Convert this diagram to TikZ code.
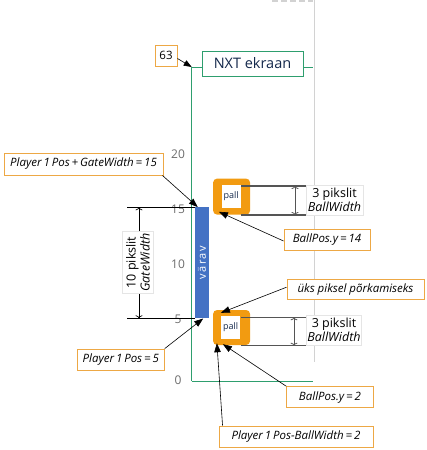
\documentclass[tikz,border=0pt]{standalone}
\usepackage{fontspec}
\setmainfont{Open Sans}
\usetikzlibrary{arrows.meta}
\definecolor{lorange}{HTML}{EDA845}
\definecolor{borange}{HTML}{F29B11}
\definecolor{gblue}{HTML}{4472C4}
\definecolor{sgreen}{HTML}{2E9E6E}
\definecolor{navy}{HTML}{14284B}
\definecolor{dimgray}{HTML}{555555}
\begin{document}
\begin{tikzpicture}[x=1pt,y=-1pt,
  lbl/.style={draw=lorange, line width=0.9pt, fill=white, inner sep=0pt, font=\fontsize{11.5}{13}\selectfont\itshape, text=black},
  dimbox/.style={draw=gray!20, fill=white, inner sep=0pt, align=center, font=\fontsize{12.5}{14}\selectfont, text=black},
  con/.style={-{Triangle[length=9pt,width=6.5pt]}, line width=0.6pt},
  ticklbl/.style={font=\fontsize{12}{14}\selectfont, text=gray!85!black, inner sep=0pt},
  dimline/.style={dimgray, line width=1.3pt},
  dimarrow/.style={{To[length=3pt,width=7pt]}-{To[length=3pt,width=7pt]}, line width=0.8pt},
  ballout/.style={fill=borange, rounded corners=4pt, minimum width=37pt, minimum height=36pt, inner sep=0pt},
  ballin/.style={fill=white, minimum width=19pt, minimum height=23pt, inner sep=0pt, font=\fontsize{9}{10}\selectfont, text=navy},
  screenline/.style={sgreen, line width=1pt}
]
\useasboundingbox (0,0) rectangle (426,450);

% right gray screen edge
\draw[gray!35, line width=1.2pt, dash pattern=on 6pt off 3pt] (272,1) -- (313,1);
\draw[gray!35, line width=0.9pt] (314,0) -- (314,362);

% screen frame
\coordinate (tl) at (191.7,67);
\coordinate (bl) at (191.7,381);
\coordinate (br) at (313,381);
\coordinate (tr) at (313,67);
\node[draw=sgreen, line width=1pt, minimum width=101pt, minimum height=25pt, inner sep=0pt,
      font=\fontsize{14.5}{16}\selectfont, text=navy] (nxt) at (252.5,63.5) {NXT ekraan};
\draw[screenline] (bl) -- (tl) -- (tl -| nxt.west);
\draw[screenline] (tl -| nxt.east) -- (tr);
\draw[screenline] (bl) -- (br);

% 63 label
\node[lbl, font=\fontsize{11.5}{13}\selectfont, minimum width=22pt, minimum height=21pt] (n63) at (166,55.5) {63};
\draw[con, -{Triangle[length=8pt,width=6pt]}] ([yshift=-3pt]n63.east) -- (tl);

% tick labels
\node[ticklbl] (t20) at (178,154) {20};
\node[ticklbl] (t15) at (178,209) {15};
\node[ticklbl] (t10) at (178,264) {10};
\node[ticklbl] (t5)  at (178,319) {5};
\node[ticklbl] (t0)  at (178,380) {0};

% gate dimension
\coordinate (g15) at (127,207.3);
\coordinate (g5) at (127,318.3);
\draw[line width=0.7pt] (g15) -- (195,207.3);
\draw[line width=0.7pt] (g5) -- (195,318.3);
\draw[dimarrow, draw=black, line width=0.7pt] (139,207.3) -- (139,318.3);
\node[dimbox, rotate=90, minimum width=62pt, minimum height=31pt] (gdim) at (138,262.5)
  {10 pikslit\\ \itshape GateWidth};

% gate bar
\node[fill=gblue, minimum width=14pt, minimum height=111pt, inner sep=0pt] (bar) at (202,262.8) {};
\node[rotate=90, text=white, font=\fontsize{11}{12}\selectfont\addfontfeatures{LetterSpace=14}] (vlab) at (bar) {värav};

% balls
\node[ballout] (b1) at (231.6,196.6) {};
\node[ballin] (b1i) at (231.2,196.3) {pall};
\node[ballout, minimum height=35pt] (b2) at (231.6,327.5) {};
\node[ballin] (b2i) at (230.7,327.5) {pall};

% ball 1 dimension
\draw[dimline] (241,186) -- (306,186);
\draw[dimline] (241,215) -- (306,215);
\draw[dimarrow, draw=dimgray] (295,186) -- (295,215);
\node[dimbox, minimum width=57pt, minimum height=30pt] (bw1) at (334.5,200) {3 pikslit\\ \itshape BallWidth};

% ball 2 dimension
\draw[dimline] (241,317.3) -- (307,317.3);
\draw[dimline] (241,345.7) -- (307,345.7);
\draw[dimarrow, draw=dimgray] (294,317.3) -- (294,345.7);
\node[dimbox, minimum width=55pt, minimum height=30pt] (bw2) at (334,330) {3 pikslit\\ \itshape BallWidth};

% labels
\node[lbl, minimum width=159pt, minimum height=22pt] (la) at (83.5,164) {Player\,1\,Pos\,+\,GateWidth\,=\,15};
\node[lbl, minimum width=86pt, minimum height=21.5pt] (lb) at (327,240) {BallPos.y\,=\,14};
\node[lbl, minimum width=137pt, minimum height=20.5pt] (lc) at (355.5,289.2) {üks piksel põrkamiseks};
\node[lbl, minimum width=87pt, minimum height=21pt] (ld) at (120.8,359.5) {Player\,1\,Pos\,=\,5};
\node[lbl, minimum width=86.5pt, minimum height=21pt] (le) at (330,397.2) {BallPos.y\,=\,2};
\node[lbl, minimum width=154pt, minimum height=21.5pt] (lf) at (296,436.7) {Player\,1\,Pos-BallWidth\,=\,2};

% connectors
\draw[con] ([xshift=-1pt]la.south east) -- ([xshift=3pt]bar.north west);
\draw[con] ([yshift=-1pt]lb.west) -- ([shift={(6,-3)}]b1.south west);
\draw[con] ([yshift=2pt]lc.west) -- ([shift={(8,3)}]b2.north west);
\draw[con] (ld.north east) -- ([xshift=-6pt]bar.south east);
\draw[con] (le.north west) -- ([shift={(10,-1)}]b2.south west);
\draw[con] ([xshift=4pt]lf.north west) -- ([shift={(4,-2)}]b2.south west);
\end{tikzpicture}
\end{document}
